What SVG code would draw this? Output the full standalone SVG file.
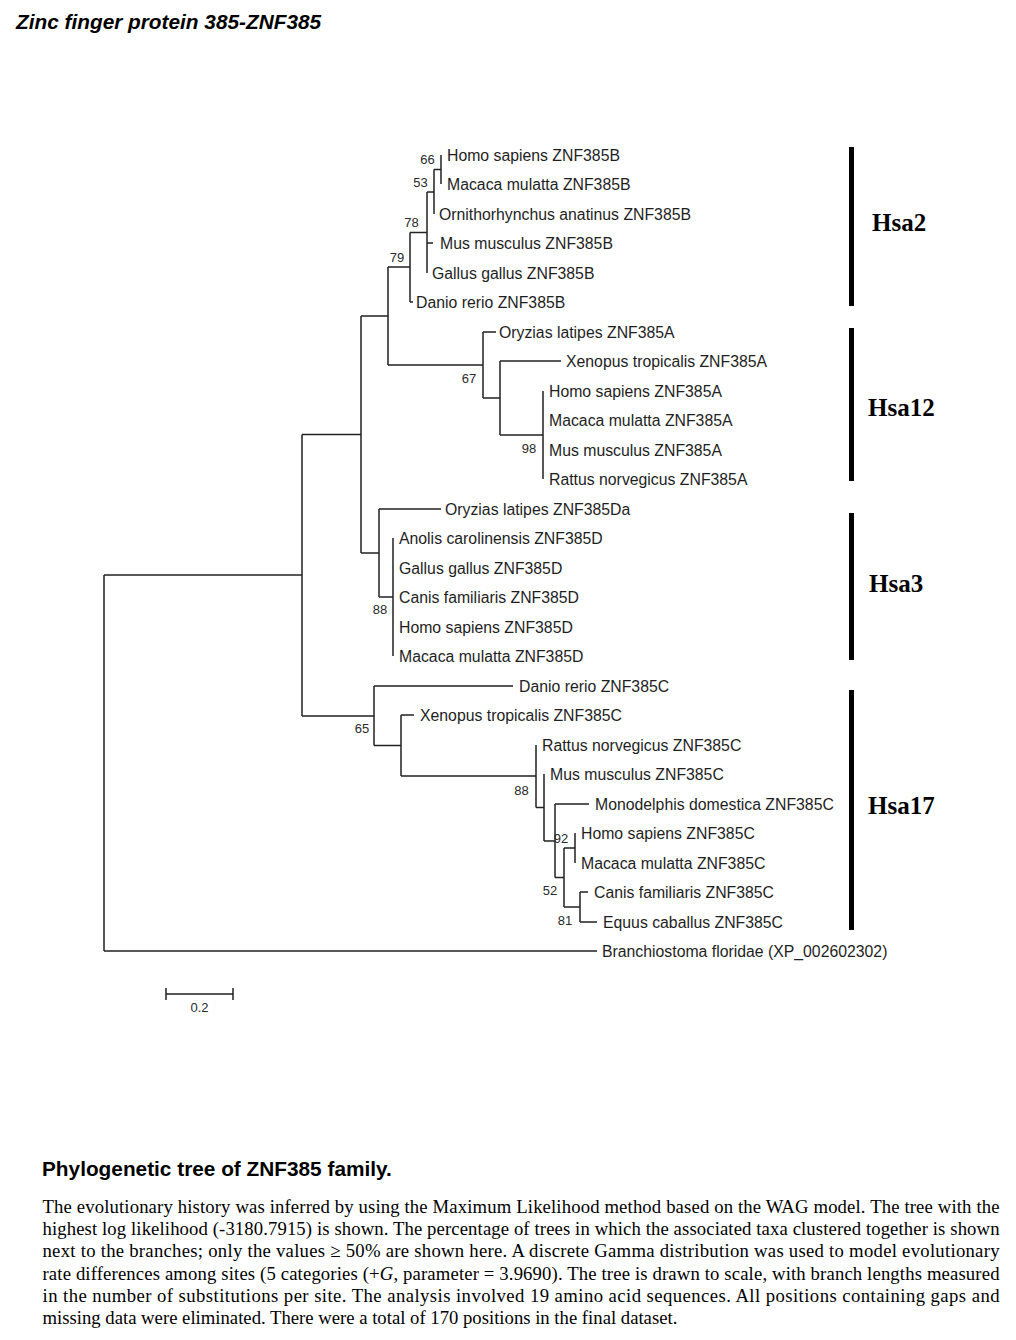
<svg xmlns="http://www.w3.org/2000/svg" width="1016" height="1340" viewBox="0 0 1016 1340">
<style>
.leaf{font-family:"Liberation Sans",Arial,sans-serif;font-size:15.8px;fill:#1e1e1e}
.bs{font-family:"Liberation Sans",Arial,sans-serif;font-size:13px;fill:#2a2a2a;text-anchor:middle}
.br{fill:none;stroke:#222;stroke-width:1.5}
.bar{fill:#000}
.hsa{font-family:"Liberation Serif","Times New Roman",serif;font-weight:bold;font-size:25px;fill:#000}
.cap{font-family:"Liberation Serif","Times New Roman",serif;font-size:18.7px;fill:#000}
</style>
<rect width="1016" height="1340" fill="#fff"/>
<g id="title"><text x="16" y="29" font-family="Liberation Sans, Arial, sans-serif" font-weight="bold" font-style="italic" font-size="20.8" fill="#000">Zinc finger protein 385-ZNF385</text></g>

<g id="connectors">
<path class="br" d="M104,575V951 M104,575H302 M104,951H597
M302,434.5V716 M302,434.5H361 M302,716H374
M361,316V553 M361,316H388 M361,553H379
M388,267V365 M388,267H410 M388,365H483
M410,232.5V302 M410,232.5H427 M410,302H413
M427,192V273 M427,192H434 M427,243H433
M434,169.5V214 M434,169.5H441
M441,155V184
M483,332V398 M483,332H496 M483,398H500
M500,361V435 M500,361H561 M500,435H543
M543,391V479
M379,509V597 M379,509H441 M379,597H393
M393,538V656
M374,686V745.5 M374,686H513 M374,745.5H401
M401,715V776 M401,715H414 M401,776H536
M536,745V807.5 M536,807.5H544
M544,774V841 M544,841H555
M555,804V877.5 M555,804H589 M555,877.5H564
M564,848V907 M564,848H575 M564,907H580
M575,833V863
M580,892V922 M580,892H588 M580,922H597"/>
</g>

<g id="leaves">
<g id="leaf-homo-b"><text class="leaf" x="447" y="160.5">Homo sapiens ZNF385B</text></g>
<g id="leaf-macaca-b"><text class="leaf" x="447" y="189.5">Macaca mulatta ZNF385B</text></g>
<g id="leaf-ornitho-b"><text class="leaf" x="439" y="219.5">Ornithorhynchus anatinus ZNF385B</text></g>
<g id="leaf-mus-b"><text class="leaf" x="440" y="248.5">Mus musculus ZNF385B</text></g>
<g id="leaf-gallus-b"><text class="leaf" x="432" y="278.5">Gallus gallus ZNF385B</text></g>
<g id="leaf-danio-b"><text class="leaf" x="416" y="307.5">Danio rerio ZNF385B</text></g>
<g id="leaf-oryzias-a"><text class="leaf" x="499" y="337.5">Oryzias latipes ZNF385A</text></g>
<g id="leaf-xenopus-a"><text class="leaf" x="566" y="366.5">Xenopus tropicalis ZNF385A</text></g>
<g id="leaf-homo-a"><text class="leaf" x="549" y="396.5">Homo sapiens ZNF385A</text></g>
<g id="leaf-macaca-a"><text class="leaf" x="549" y="425.5">Macaca mulatta ZNF385A</text></g>
<g id="leaf-mus-a"><text class="leaf" x="549" y="455.5">Mus musculus ZNF385A</text></g>
<g id="leaf-rattus-a"><text class="leaf" x="549" y="484.5">Rattus norvegicus ZNF385A</text></g>
<g id="leaf-oryzias-da"><text class="leaf" x="445" y="514.5">Oryzias latipes ZNF385Da</text></g>
<g id="leaf-anolis-d"><text class="leaf" x="399" y="543.5">Anolis carolinensis ZNF385D</text></g>
<g id="leaf-gallus-d"><text class="leaf" x="399" y="573.5">Gallus gallus ZNF385D</text></g>
<g id="leaf-canis-d"><text class="leaf" x="399" y="602.5">Canis familiaris ZNF385D</text></g>
<g id="leaf-homo-d"><text class="leaf" x="399" y="632.5">Homo sapiens ZNF385D</text></g>
<g id="leaf-macaca-d"><text class="leaf" x="399" y="661.5">Macaca mulatta ZNF385D</text></g>
<g id="leaf-danio-c"><text class="leaf" x="519" y="691.5">Danio rerio ZNF385C</text></g>
<g id="leaf-xenopus-c"><text class="leaf" x="420" y="720.5">Xenopus tropicalis ZNF385C</text></g>
<g id="leaf-rattus-c"><text class="leaf" x="542" y="750.5">Rattus norvegicus ZNF385C</text></g>
<g id="leaf-mus-c"><text class="leaf" x="550" y="779.5">Mus musculus ZNF385C</text></g>
<g id="leaf-monodelphis-c"><text class="leaf" x="595" y="809.5">Monodelphis domestica ZNF385C</text></g>
<g id="leaf-homo-c"><text class="leaf" x="581" y="838.5">Homo sapiens ZNF385C</text></g>
<g id="leaf-macaca-c"><text class="leaf" x="581" y="868.5">Macaca mulatta ZNF385C</text></g>
<g id="leaf-canis-c"><text class="leaf" x="594" y="897.5">Canis familiaris ZNF385C</text></g>
<g id="leaf-equus-c"><text class="leaf" x="603" y="927.5">Equus caballus ZNF385C</text></g>
<g id="leaf-branchiostoma"><text class="leaf" x="602" y="956.5">Branchiostoma floridae (XP_002602302)</text></g>
</g>

<g id="bootstrap">
<g id="node-66"><text class="bs" x="427.5" y="164">66</text></g>
<g id="node-53"><text class="bs" x="420.5" y="187">53</text></g>
<g id="node-78"><text class="bs" x="411.5" y="227">78</text></g>
<g id="node-79"><text class="bs" x="397" y="262">79</text></g>
<g id="node-67"><text class="bs" x="469" y="383">67</text></g>
<g id="node-98"><text class="bs" x="529" y="453">98</text></g>
<g id="node-88d"><text class="bs" x="380" y="614">88</text></g>
<g id="node-65"><text class="bs" x="362" y="733">65</text></g>
<g id="node-88c"><text class="bs" x="521.5" y="795">88</text></g>
<g id="node-92"><text class="bs" x="561" y="843">92</text></g>
<g id="node-52"><text class="bs" x="550" y="895">52</text></g>
<g id="node-81"><text class="bs" x="565" y="925">81</text></g>
</g>

<g id="clades">
<g id="clade-hsa2"><rect class="bar" x="849" y="147" width="5" height="159"/><text class="hsa" x="872" y="231">Hsa2</text></g>
<g id="clade-hsa12"><rect class="bar" x="849" y="328" width="5" height="153"/><text class="hsa" x="868" y="416">Hsa12</text></g>
<g id="clade-hsa3"><rect class="bar" x="849" y="513" width="5" height="147"/><text class="hsa" x="869" y="592">Hsa3</text></g>
<g id="clade-hsa17"><rect class="bar" x="849" y="690" width="5" height="240"/><text class="hsa" x="868" y="814">Hsa17</text></g>
</g>

<g id="scale-bar">
<path class="br" d="M166,994H233 M166,988V1000 M233,988V1000"/>
<text class="bs" x="199.5" y="1012">0.2</text>
</g>

<g id="caption">
<text x="42" y="1176" font-family="Liberation Sans, Arial, sans-serif" font-weight="bold" font-size="20.8" fill="#000">Phylogenetic tree of ZNF385 family.</text>
<text class="cap" x="42.5" y="1213" textLength="957" lengthAdjust="spacing">The evolutionary history was inferred by using the Maximum Likelihood method based on the WAG model. The tree with the</text>
<text class="cap" x="42.5" y="1235.2" textLength="957" lengthAdjust="spacing">highest log likelihood (-3180.7915) is shown. The percentage of trees in which the associated taxa clustered together is shown</text>
<text class="cap" x="42.5" y="1257.4" textLength="957" lengthAdjust="spacing">next to the branches; only the values ≥ 50% are shown here. A discrete Gamma distribution was used to model evolutionary</text>
<text class="cap" x="42.5" y="1279.6" textLength="957" lengthAdjust="spacing">rate differences among sites (5 categories (+<tspan font-style="italic">G</tspan>, parameter = 3.9690). The tree is drawn to scale, with branch lengths measured</text>
<text class="cap" x="42.5" y="1301.8" textLength="957" lengthAdjust="spacing">in the number of substitutions per site. The analysis involved 19 amino acid sequences. All positions containing gaps and</text>
<text class="cap" x="42.5" y="1324">missing data were eliminated. There were a total of 170 positions in the final dataset.</text>
</g>
</svg>
